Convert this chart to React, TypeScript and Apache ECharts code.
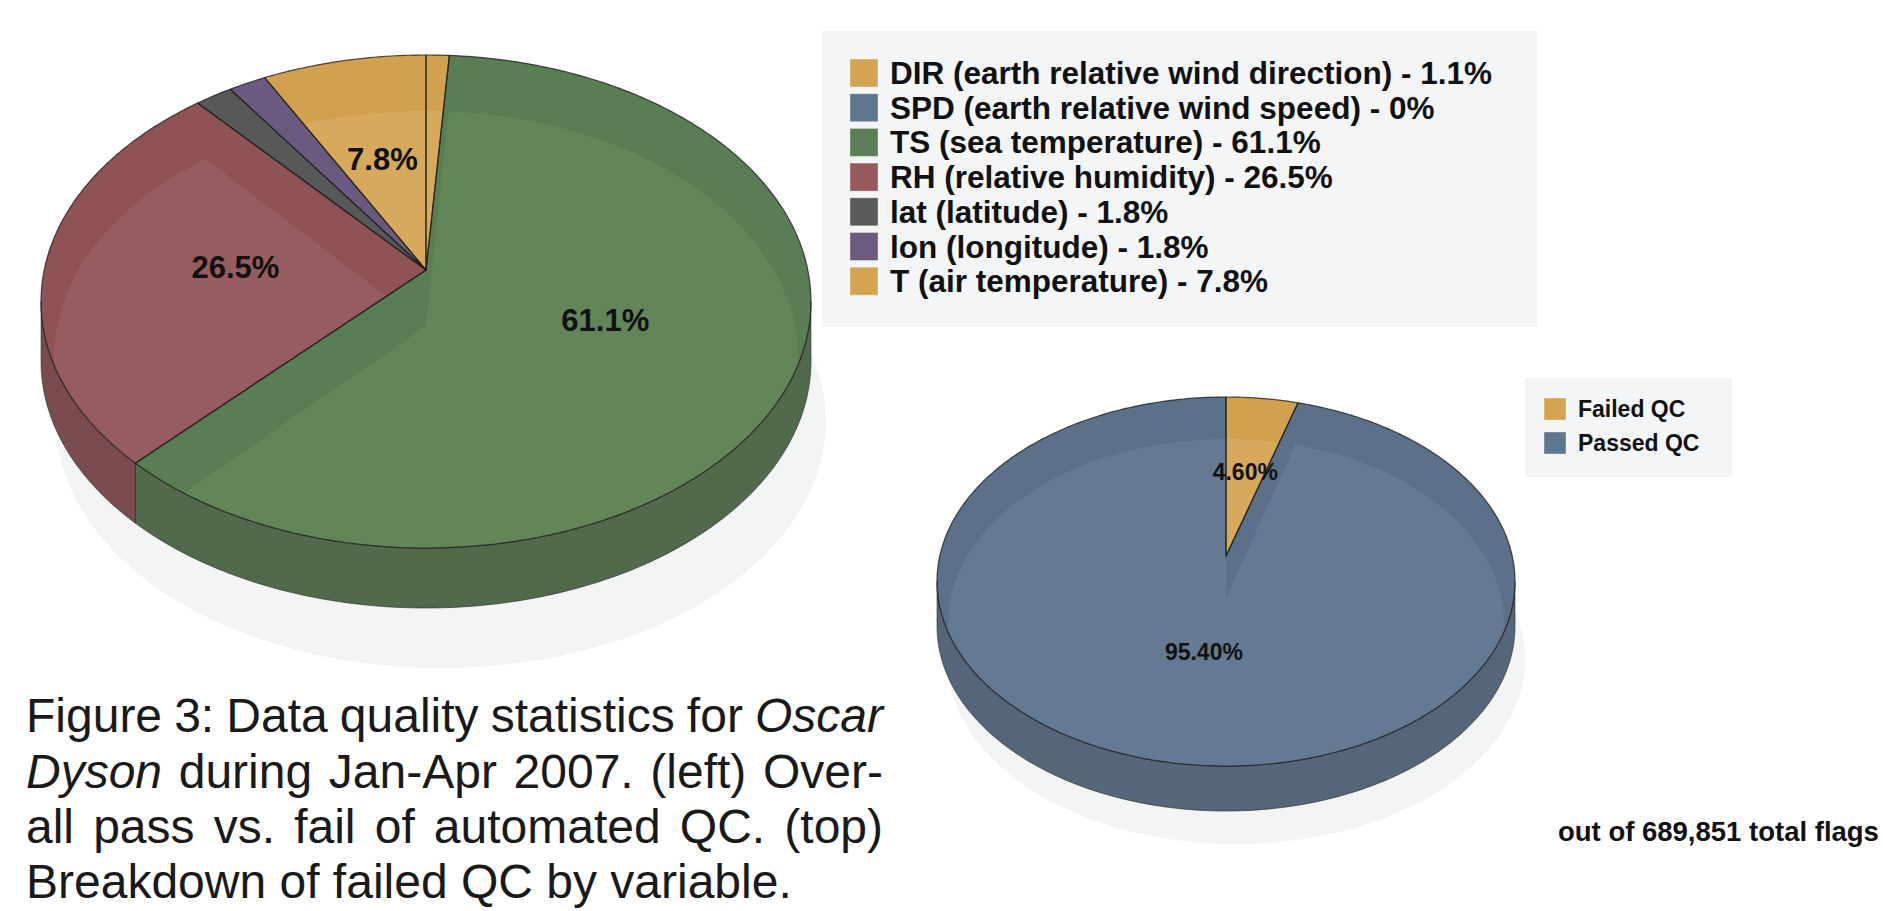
import React, { useEffect, useRef } from 'react';
import * as echarts from 'echarts';

// ---------- data ----------
const failCategories = [
  'DIR (earth relative wind direction)',
  'SPD (earth relative wind speed)',
  'TS (sea temperature)',
  'RH (relative humidity)',
  'lat (latitude)',
  'lon (longitude)',
  'T (air temperature)',
];
const failShares = [1.1, 0, 61.1, 26.5, 1.8, 1.8, 7.8];

const qcCategories = ['Failed QC', 'Passed QC'];
const qcShares = [4.6, 95.4];

const totalFlags = 689851;

const captionLines = [
  'Figure 3: Data quality statistics for _Oscar_',
  '_Dyson_ during Jan-Apr 2007. (left) Over-',
  'all pass vs. fail of automated QC. (top)',
  'Breakdown of failed QC by variable.',
];

// ---------- styles ----------
type Shade = { rim: string; face: string; side: string; key: string };
const orange: Shade = { rim: '#D2A14F', face: '#D6A95C', side: '#A88140', key: '#D4A452' };
const blue: Shade = { rim: '#5B7089', face: '#647A92', side: '#55657A', key: '#5E7791' };
const failShades: Shade[] = [
  orange,
  blue,
  { rim: '#597E53', face: '#62855A', side: '#516A4B', key: '#5B8055' },
  { rim: '#8F5255', face: '#975C5F', side: '#7A4C4F', key: '#975A5C' },
  { rim: '#585858', face: '#5E5E5E', side: '#4A4A4A', key: '#5A5A5A' },
  { rim: '#6A5A7F', face: '#6F5F85', side: '#594B6B', key: '#6C5B80' },
  orange,
];
const qcShades: Shade[] = [orange, blue];

type PieGeom = {
  cx: number; cy: number; A: number; B: number; k: number;
  depth: number; shift: number; sx: number;
  shadowDx: number; shadowDy: number; labelR: number; font: string;
};
const failGeom: PieGeom = {
  cx: 426, cy: 270, A: 381.8, B: 242.5, k: 0.1278, depth: 60, shift: 56, sx: 0.966,
  shadowDx: 15, shadowDy: 120, labelR: 0.5, font: 'bold 31px "Liberation Sans", Arial, sans-serif',
};
const qcGeom: PieGeom = {
  cx: 1226, cy: 556, A: 286.2, B: 181, k: 0.1383, depth: 45, shift: 42, sx: 0.962,
  shadowDx: 10, shadowDy: 78, labelR: 0.5, font: 'bold 23px "Liberation Sans", Arial, sans-serif',
};

const EDGE = 'rgba(28,28,28,0.78)';

function makeRenderItem(
  shares: number[], shades: Shade[], g: PieGeom, fmt: (v: number) => string, minLabel: number,
) {
  const total = shares.reduce((a, b) => a + b, 0);
  const starts: number[] = [];
  let acc = 0;
  shares.forEach((s) => { starts.push(acc); acc += s; });
  const TAU = Math.PI * 2;
  const proj = (t: number, r = 1, dy = 0): number[] => {
    const u = r * Math.sin(t);
    const v = -r * Math.cos(t);
    const d = 1 - g.k * v;
    return [g.cx + (g.A * u) / d, g.cy + (g.B * v) / d + dy];
  };
  const arc = (a0: number, a1: number, dy = 0): number[][] => {
    const n = Math.max(2, Math.ceil((a1 - a0) / (Math.PI / 240)));
    const pts: number[][] = [];
    for (let j = 0; j <= n; j++) pts.push(proj(a0 + ((a1 - a0) * j) / n, 1, dy));
    return pts;
  };
  const tR = Math.acos(-g.k);
  const tL = TAU - Math.acos(-g.k);

  return (params: any, api: any) => {
    const i = params.dataIndex;
    const val = api.value(0);
    const children: any[] = [];
    if (i === 0) {
      const sh = arc(0, TAU).map((p) => [p[0] + g.shadowDx, p[1] + g.shadowDy]);
      children.push({ type: 'polygon', z2: 0, silent: true, shape: { points: sh }, style: { fill: '#F3F5F5' } });
    }
    if (!(val > 0)) return { type: 'group', children };
    const a0 = (starts[i] / total) * TAU;
    const a1 = ((starts[i] + val) / total) * TAU;
    const s = shades[i];

    const s0 = Math.max(a0, tR);
    const s1 = Math.min(a1, tL);
    if (s1 > s0) {
      const top = arc(s0, s1);
      const bot = arc(s0, s1, g.depth).reverse();
      children.push({
        type: 'polygon', z2: 1, shape: { points: top.concat(bot) },
        style: { fill: s.side, stroke: 'rgba(28,28,28,0.55)', lineWidth: 1 },
      });
    }
    const sector = [[g.cx, g.cy]].concat(arc(a0, a1));
    children.push({ type: 'polygon', z2: 5, shape: { points: sector }, style: { fill: s.rim } });
    const hl = sector.map((p) => [g.cx + (p[0] - g.cx) * g.sx, p[1] + g.shift]);
    children.push({
      type: 'polygon', z2: 6, shape: { points: hl }, style: { fill: s.face },
      clipPath: { type: 'polygon', shape: { points: sector } },
    });
    children.push({
      type: 'polygon', z2: 7, silent: true, shape: { points: sector },
      style: { fill: 'none', stroke: EDGE, lineWidth: 1.2, lineJoin: 'round' },
    });
    if (val >= minLabel) {
      const mid = (a0 + a1) / 2;
      const lp = proj(mid, g.labelR);
      children.push({
        type: 'text', z2: 10, x: lp[0], y: lp[1],
        style: {
          text: fmt(val), font: g.font, fill: '#111',
          align: 'center', verticalAlign: 'middle', textAlign: 'center', textVerticalAlign: 'middle',
        },
      });
    }
    return { type: 'group', children };
  };
}

// ---------- text helpers ----------
function measure(text: string, font: string): number {
  const c = document.createElement('canvas').getContext('2d');
  if (!c) return text.length * 20;
  c.font = font;
  return c.measureText(text).width;
}

function buildCaption(): any[] {
  const size = 48;
  const left = 26;
  const right = 883;
  const baselines = [739, 795, 850, 905];
  const out: any[] = [];
  captionLines.forEach((line, li) => {
    const words = line.split(' ').map((w) => {
      const it = w.startsWith('_') && w.endsWith('_');
      return { t: it ? w.slice(1, -1) : w, it };
    });
    const fonts = words.map((w) => `${w.it ? 'italic ' : ''}${size}px "Liberation Sans", Arial, sans-serif`);
    const widths = words.map((w, k) => measure(w.t, fonts[k]));
    const sum = widths.reduce((a, b) => a + b, 0);
    const last = li === captionLines.length - 1;
    const gap = last || words.length < 2
      ? measure(' ', fonts[0])
      : (right - left - sum) / (words.length - 1);
    let x = left;
    words.forEach((w, k) => {
      out.push({
        type: 'text', x, y: baselines[li], silent: true,
        style: {
          text: w.t, font: fonts[k], fill: '#1a1a1a',
          align: 'left', verticalAlign: 'bottom', textAlign: 'left', textVerticalAlign: 'bottom',
        },
      });
      x += widths[k] + gap;
    });
  });
  return out;
}

function buildLegend(
  names: string[], labels: string[], shades: Shade[], box: number[], x0: number, y0: number,
  step: number, sq: number, font: string,
): any[] {
  const els: any[] = [
    { type: 'rect', silent: true, shape: { x: box[0], y: box[1], width: box[2], height: box[3] }, style: { fill: '#F4F5F7' } },
  ];
  names.forEach((n, i) => {
    const cy = y0 + i * step;
    els.push({
      type: 'rect', silent: true, shape: { x: x0, y: cy - sq / 2, width: sq, height: sq },
      style: { fill: shades[i].key, stroke: 'rgba(255,255,255,0.35)', lineWidth: 1 },
    });
    els.push({
      type: 'text', silent: true, x: x0 + sq + 12, y: cy,
      style: {
        text: labels[i], font, fill: '#111',
        align: 'left', verticalAlign: 'middle', textAlign: 'left', textVerticalAlign: 'middle',
      },
    });
  });
  return els;
}

export default function App() {
  const ref = useRef<HTMLDivElement>(null);
  useEffect(() => {
    document.body.style.margin = '0';
    if (!ref.current) return;
    const chart = echarts.init(ref.current, null, { renderer: 'svg' });
    const failLabels = failCategories.map((c, i) => `${c} - ${failShares[i]}%`);
    const option: any = {
      animation: false,
      backgroundColor: '#ffffff',
      series: [
        {
          type: 'custom', name: 'Failed QC by variable', coordinateSystem: 'none',
          data: failShares,
          renderItem: makeRenderItem(failShares, failShades, failGeom, (v) => `${v}%`, 4),
        },
        {
          type: 'custom', name: 'QC result', coordinateSystem: 'none',
          data: qcShares,
          renderItem: makeRenderItem(qcShares, qcShades, qcGeom, (v) => `${v.toFixed(2)}%`, 0.1),
        },
      ],
      graphic: [
        ...buildLegend(
          failCategories, failLabels, failShades, [822, 31, 715, 296], 850, 73, 34.7, 28,
          'bold 31.5px "Liberation Sans", Arial, sans-serif',
        ),
        ...buildLegend(
          qcCategories, qcCategories, qcShades, [1525, 378, 207, 99], 1544, 409, 34, 22,
          'bold 23px "Liberation Sans", Arial, sans-serif',
        ),
        {
          type: 'text', silent: true, x: 1558, y: 845,
          style: {
            text: `out of ${totalFlags.toLocaleString('en-US')} total flags`,
            font: 'bold 27.5px "Liberation Sans", Arial, sans-serif', fill: '#111',
            align: 'left', verticalAlign: 'bottom', textAlign: 'left', textVerticalAlign: 'bottom',
          },
        },
        ...buildCaption(),
      ],
    };
    chart.setOption(option);
    return () => chart.dispose();
  }, []);
  return <div ref={ref} style={{ width: 1883, height: 911 }} />;
}
